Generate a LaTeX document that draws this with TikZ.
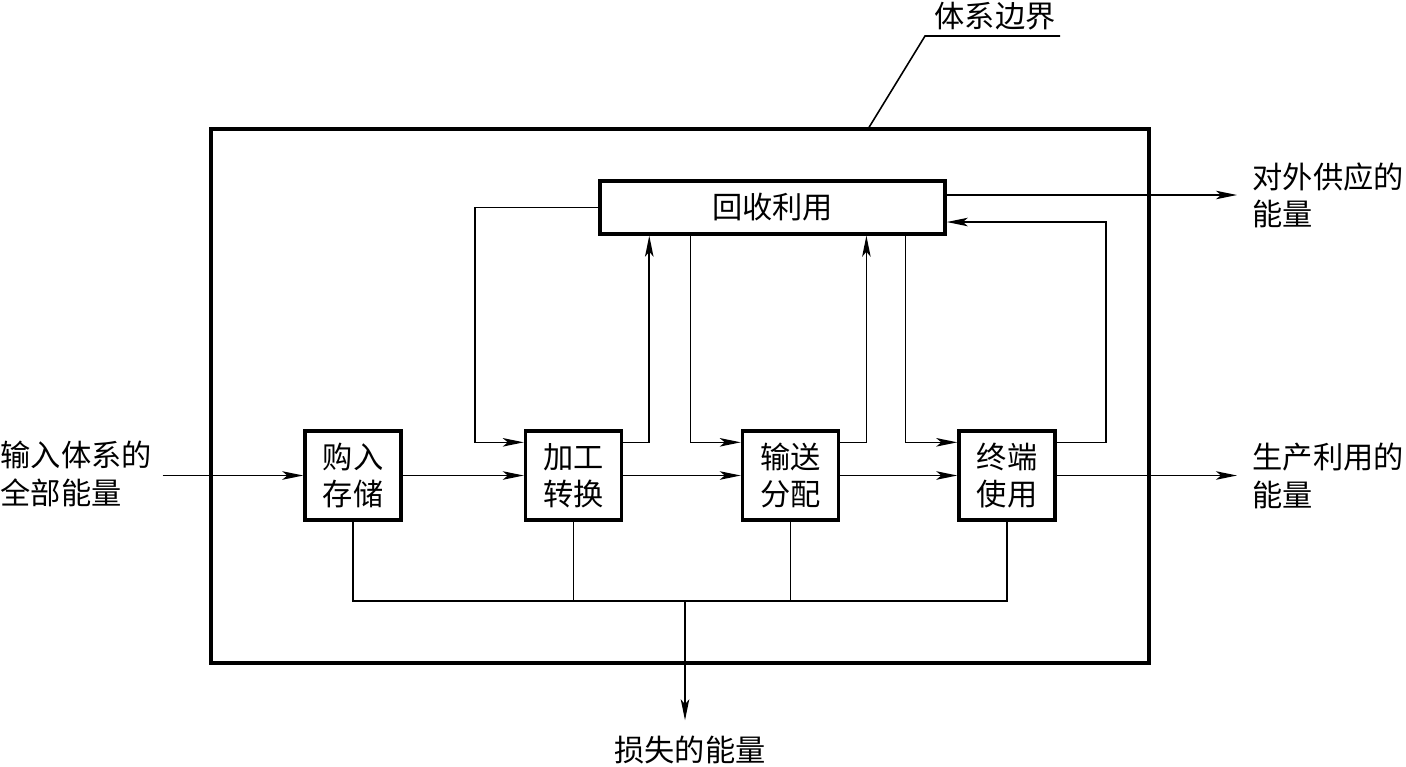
\documentclass[tikz,border=0pt]{standalone}
\usepackage{fontspec}
\newfontfamily\cjk{Noto Sans CJK SC}
\usetikzlibrary{arrows.meta,calc}
\begin{document}
\begin{tikzpicture}[x=0.01cm,y=-0.01cm,
  thin line/.style={line width=0.45pt},
  thick line/.style={line width=0.95pt},
  arr/.style={thin line,-{Stealth[length=0.21cm,width=0.085cm,inset=0.05cm]}},
  procbox/.style={draw,thick line,minimum width=0.96cm,minimum height=0.89cm,inner sep=0pt,align=center,font=\cjk\fontsize{8.6pt}{10.6pt}\selectfont},
  lbl/.style={inner sep=0pt,align=left,font=\cjk\fontsize{8.6pt}{10.6pt}\selectfont}]
\useasboundingbox (0,0) rectangle (1406,766);
% system boundary
\draw[thick line] (211,129) rectangle (1149,663);
\coordinate (bt) at (868,129);
\node[lbl,anchor=center] (bl) at (995,16) {体系边界};
\draw[thin line] (bt) -- (925,36) -- (1060,36);
% boxes
\node[procbox] (gc) at (353,475.5) {购入\\存储};
\node[procbox] (jg) at (573.5,475.5) {加工\\转换};
\node[procbox] (ss) at (790.5,475.5) {输送\\分配};
\node[procbox] (zd) at (1007,475.5) {终端\\使用};
\node[procbox,minimum width=3.45cm,minimum height=0.53cm] (hs) at (772.5,207.5) {回收利用};
% labels
\node[lbl,anchor=west] (in) at (0,474) {输入体系的\\全部能量};
\node[lbl,anchor=west] (out1) at (1252,195) {对外供应的\\能量};
\node[lbl,anchor=west] (out2) at (1252,476) {生产利用的\\能量};
\node[lbl,anchor=center] (loss) at (690,750) {损失的能量};
% main flow
\draw[arr,shorten <=0.1cm] (in.east |- gc.west) -- (gc.west);
\draw[arr] (gc.east) -- (jg.west);
\draw[arr] (jg.east) -- (ss.west);
\draw[arr] (ss.east) -- (zd.west);
\draw[arr,shorten >=0.15cm] (zd.east) -- (zd.east -| out2.west);
% recycling loops
\draw[arr] (hs.west) -- ++(-123,0) |- ([yshift=-0.13cm]jg.north west);
\draw[arr] ([yshift=-0.13cm]jg.north east) -| ([xshift=0.51cm]hs.south west);
\draw[arr] ([xshift=0.92cm]hs.south west) |- ([yshift=-0.13cm]ss.north west);
\draw[arr] ([yshift=-0.13cm]ss.north east) -| ([xshift=2.68cm]hs.south west);
\draw[arr] ([xshift=3.07cm]hs.south west) |- ([yshift=-0.13cm]zd.north west);
\draw[arr] ([yshift=-0.13cm]zd.north east) -- ++(0.49cm,0) |- ([yshift=-0.145cm]hs.east);
\coordinate (r1) at ([yshift=0.125cm]hs.east);
\draw[arr,shorten >=0.15cm] (r1) -- (r1 -| out1.west);
% losses
\coordinate (lb) at (685,601);
\draw[thin line] (gc.south) |- (lb) -| (zd.south);
\draw[thin line] (jg.south) -- (jg.south |- lb);
\draw[thin line] (ss.south) -- (ss.south |- lb);
\draw[arr,shorten >=0.15cm] (lb) -- (lb |- loss.north);
\end{tikzpicture}
\end{document}
